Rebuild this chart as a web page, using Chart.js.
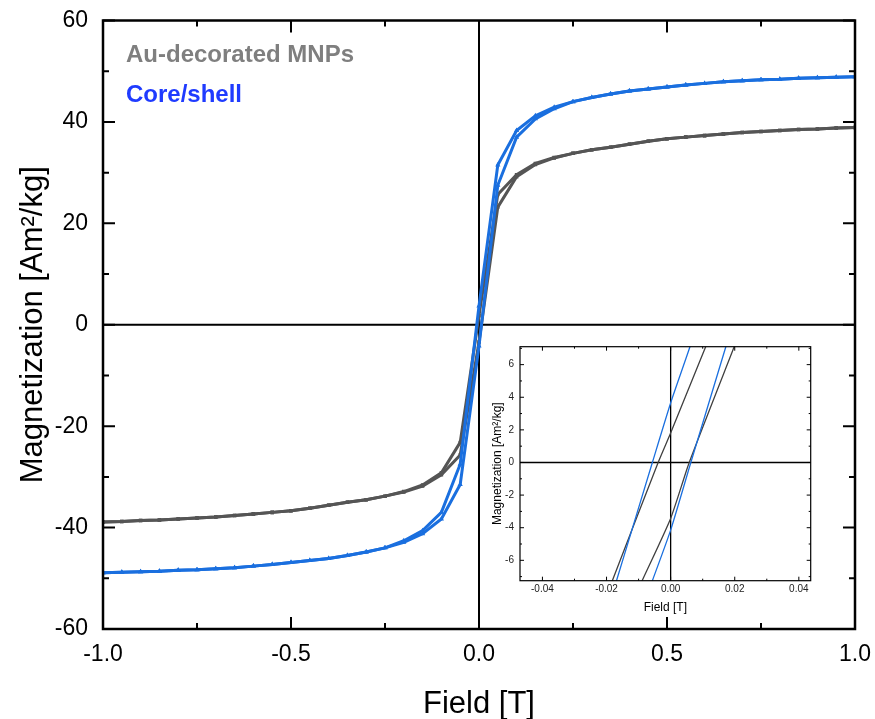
<!DOCTYPE html>
<html>
<head>
<meta charset="utf-8">
<script src="https://cdn.jsdelivr.net/npm/chart.js@4"></script>
<style>
  body { margin: 0; background: #fff; }
  #wrap { position: relative; width: 875px; height: 719px; font-family: "Liberation Sans", Arial, sans-serif; }
  #main { position: absolute; left: 0; top: 0; }
  #inset { position: absolute; left: 470px; top: 336px; }
  .leg { position: absolute; left: 126px; font-weight: bold; font-size: 24px; line-height: 40px; white-space: nowrap; }
</style>
</head>
<body>
<div id="wrap">
  <canvas id="main" width="875" height="719"></canvas>
  <canvas id="inset" width="350" height="290"></canvas>
  <div class="leg" style="top:34px;color:#7f7f7f">Au-decorated MNPs</div>
  <div class="leg" style="top:74px;color:#1f3bff">Core/shell</div>
</div>
<script>
// champ appliqué, pas de 0.05 T
var field = [-1.00, -0.95, -0.90, -0.85, -0.80, -0.75, -0.70, -0.65, -0.60, -0.55,
             -0.50, -0.45, -0.40, -0.35, -0.30, -0.25, -0.20, -0.15, -0.10, -0.05,
              0.00,  0.05,  0.10,  0.15,  0.20,  0.25,  0.30,  0.35,  0.40,  0.45,
              0.50,  0.55,  0.60,  0.65,  0.70,  0.75,  0.80,  0.85,  0.90,  0.95, 1.00];

// Au-decorated MNPs : branche descendante (+1 -> -1) et montante (-1 -> +1)
var auDown = [-38.9, -38.8, -38.6, -38.5, -38.3, -38.1, -37.9, -37.6, -37.3, -37.0,
              -36.7, -36.2, -35.6, -35.0, -34.5, -33.8, -32.9, -31.6, -29.2, -23.2,
                1.8,  25.7,  29.6,  31.8,  33.0,  33.8,  34.5,  35.0,  35.6,  36.2,
               36.7,  37.0,  37.3,  37.6,  37.9,  38.1,  38.3,  38.5,  38.6,  38.8, 38.9];
var auUp   = [-38.9, -38.8, -38.6, -38.5, -38.3, -38.1, -37.9, -37.6, -37.3, -37.0,
              -36.7, -36.2, -35.6, -35.0, -34.5, -33.8, -33.0, -31.8, -29.6, -25.7,
               -3.4,  23.2,  29.2,  31.6,  32.9,  33.8,  34.5,  35.0,  35.6,  36.2,
               36.7,  37.0,  37.3,  37.6,  37.9,  38.1,  38.3,  38.5,  38.6,  38.8, 38.9];

// Core/shell
var csDown = [-48.9, -48.8, -48.7, -48.6, -48.4, -48.3, -48.1, -47.9, -47.6, -47.3,
              -46.9, -46.5, -46.1, -45.5, -44.8, -44.0, -42.6, -40.6, -37.0, -27.5,
                3.7,  31.5,  38.3,  41.2,  42.9,  44.0,  44.8,  45.5,  46.1,  46.5,
               46.9,  47.3,  47.6,  47.9,  48.1,  48.3,  48.4,  48.6,  48.7,  48.8, 48.9];
var csUp   = [-48.9, -48.8, -48.7, -48.6, -48.4, -48.3, -48.1, -47.9, -47.6, -47.3,
              -46.9, -46.5, -46.1, -45.5, -44.8, -44.0, -42.9, -41.2, -38.3, -31.5,
               -4.2,  27.5,  37.0,  40.6,  42.6,  44.0,  44.8,  45.5,  46.1,  46.5,
               46.9,  47.3,  47.6,  47.9,  48.1,  48.3,  48.4,  48.6,  48.7,  48.8, 48.9];

// encart : zoom autour de l'origine
var auDownH = [-0.0215, -0.0182, -0.0039, 0.0000, 0.0109, 0.0150];
var auDownM = [-9.0, -7.25, 0.0, 1.81, 7.08, 9.0];
var auUpH   = [-0.0120, -0.0089, 0.0000, 0.0058, 0.0198, 0.0240];
var auUpM   = [-8.6, -7.25, -3.43, 0.0, 7.08, 9.2];
var csDownH = [-0.0200, -0.0169, -0.0057, 0.0000, 0.0060, 0.0090];
var csDownM = [-9.2, -7.25, 0.0, 3.65, 7.08, 9.0];
var csUpH   = [-0.0090, -0.0057, 0.0000, 0.0063, 0.0172, 0.0200];
var csUpM   = [-9.0, -7.25, -4.15, 0.0, 7.08, 8.9];

var xTicks = [-1, -0.5, 0, 0.5, 1];
var xMinor = [-0.75, -0.25, 0.25, 0.75];
var yTicks = [-60, -40, -20, 0, 20, 40, 60];
var yMinor = [-50, -30, -10, 10, 30, 50];

var ixTicks = [-0.04, -0.02, 0, 0.02, 0.04];
var ixMinor = [-0.03, -0.01, 0.01, 0.03];
var iyTicks = [-6, -4, -2, 0, 2, 4, 6];
var iyMinor = [-7, -5, -3, -1, 1, 3, 5, 7];

var GRAY = '#555555';
var BLUE = '#1a6fdf';

function pts(xs, ys) {
    var out = [];
    for (var i = 0; i < xs.length; i++) out.push({x: xs[i], y: ys[i]});
    return out;
}

// cadre, graduations vers l'intérieur et axes du zéro
var frameTicks = {
    id: 'frameTicks',
    beforeDatasetsDraw: function (chart, args, o) {
        var a = chart.chartArea, c = chart.ctx;
        var x0 = chart.scales.x.getPixelForValue(0);
        var y0 = chart.scales.y.getPixelForValue(0);
        c.save();
        c.strokeStyle = '#000';
        c.lineWidth = o.zeroWidth;
        c.beginPath();
        c.moveTo(x0, a.top); c.lineTo(x0, a.bottom);
        c.moveTo(a.left, y0); c.lineTo(a.right, y0);
        c.stroke();
        c.restore();
    },
    afterDatasetsDraw: function (chart, args, o) {
        var a = chart.chartArea, c = chart.ctx;
        var sx = chart.scales.x, sy = chart.scales.y;
        c.save();
        c.strokeStyle = '#000';
        c.lineWidth = o.tickWidth;
        c.beginPath();
        function vt(list, len) {
            list.forEach(function (v) {
                var p = sx.getPixelForValue(v);
                c.moveTo(p, a.bottom); c.lineTo(p, a.bottom - len);
                c.moveTo(p, a.top); c.lineTo(p, a.top + len);
            });
        }
        function ht(list, len) {
            list.forEach(function (v) {
                var p = sy.getPixelForValue(v);
                c.moveTo(a.left, p); c.lineTo(a.left + len, p);
                c.moveTo(a.right, p); c.lineTo(a.right - len, p);
            });
        }
        vt(o.xMajor, o.major); vt(o.xMinor, o.minor);
        ht(o.yMajor, o.major); ht(o.yMinor, o.minor);
        c.stroke();
        c.lineWidth = o.frameWidth;
        c.strokeRect(a.left, a.top, a.right - a.left, a.bottom - a.top);
        c.restore();
    }
};

function noPadX(s, h) { s.height = h; s.paddingLeft = 0; s.paddingRight = 0; }
function noPadY(s, w) { s.width = w; s.paddingTop = 0; s.paddingBottom = 0; }

Chart.defaults.font.family = '"Liberation Sans", Arial, sans-serif';
Chart.defaults.color = '#000';

new Chart(document.getElementById('main'), {
    type: 'line',
    data: {
        datasets: [
            {data: pts(field, csDown), borderColor: BLUE, backgroundColor: BLUE, pointStyle: 'triangle', pointRadius: 3, order: 0},
            {data: pts(field, csUp), borderColor: BLUE, backgroundColor: BLUE, pointStyle: 'triangle', pointRadius: 3, order: 0},
            {data: pts(field, auDown), borderColor: GRAY, backgroundColor: GRAY, pointStyle: 'rect', pointRadius: 2.5, order: 1},
            {data: pts(field, auUp), borderColor: GRAY, backgroundColor: GRAY, pointStyle: 'rect', pointRadius: 2.5, order: 1}
        ]
    },
    options: {
        responsive: false,
        animation: false,
        events: [],
        layout: {padding: {top: 20.5, right: 20, left: 0, bottom: 0}},
        elements: {line: {borderWidth: 3, tension: 0}, point: {borderWidth: 0}},
        plugins: {
            legend: {display: false},
            tooltip: {enabled: false},
            frameTicks: {xMajor: xTicks, xMinor: xMinor, yMajor: yTicks, yMinor: yMinor,
                         major: 12, minor: 6, tickWidth: 2, frameWidth: 2.5, zeroWidth: 2}
        },
        scales: {
            x: {
                type: 'linear', min: -1, max: 1,
                afterBuildTicks: function (s) { s.ticks = xTicks.map(function (v) { return {value: v}; }); },
                afterFit: function (s) { noPadX(s, 90); },
                grid: {display: false, drawTicks: false},
                border: {display: false},
                ticks: {padding: 12, font: {size: 23}, maxRotation: 0,
                        callback: function (v) { return v.toFixed(1); }},
                title: {display: true, text: 'Field [T]', font: {size: 31}, padding: {top: 0, bottom: -4}}
            },
            y: {
                type: 'linear', min: -60, max: 60,
                afterBuildTicks: function (s) { s.ticks = yTicks.map(function (v) { return {value: v}; }); },
                afterFit: function (s) { noPadY(s, 103); },
                grid: {display: false, drawTicks: false},
                border: {display: false},
                ticks: {padding: 15, font: {size: 23}},
                title: {display: true, text: 'Magnetization [Am²/kg]', font: {size: 31}, padding: {top: 15, bottom: 0}}
            }
        }
    },
    plugins: [frameTicks]
});

new Chart(document.getElementById('inset'), {
    type: 'line',
    data: {
        datasets: [
            {data: pts(csDownH, csDownM), borderColor: BLUE, order: 0},
            {data: pts(csUpH, csUpM), borderColor: BLUE, order: 0},
            {data: pts(auDownH, auDownM), borderColor: '#404040', order: 1},
            {data: pts(auUpH, auUpM), borderColor: '#404040', order: 1}
        ]
    },
    options: {
        responsive: false,
        animation: false,
        events: [],
        layout: {padding: {top: 10.7, right: 9.3, left: 0, bottom: 0}},
        elements: {line: {borderWidth: 1.3, tension: 0.2}, point: {radius: 0}},
        plugins: {
            legend: {display: false},
            tooltip: {enabled: false},
            frameTicks: {xMajor: ixTicks, xMinor: ixMinor, yMajor: iyTicks, yMinor: iyMinor,
                         major: 4, minor: 2, tickWidth: 1, frameWidth: 1.2, zeroWidth: 1.3}
        },
        scales: {
            x: {
                type: 'linear', min: -0.047, max: 0.0437,
                afterBuildTicks: function (s) { s.ticks = ixTicks.map(function (v) { return {value: v}; }); },
                afterFit: function (s) { noPadX(s, 45.3); },
                grid: {display: false, drawTicks: false},
                border: {display: false},
                ticks: {padding: 3, font: {size: 10}, maxRotation: 0, color: '#222',
                        callback: function (v) { return v.toFixed(2); }},
                title: {display: true, text: 'Field [T]', font: {size: 12}, padding: {top: 0, bottom: 10.8}}
            },
            y: {
                type: 'linear', min: -7.25, max: 7.1,
                afterBuildTicks: function (s) { s.ticks = iyTicks.map(function (v) { return {value: v}; }); },
                afterFit: function (s) { noPadY(s, 50); },
                grid: {display: false, drawTicks: false},
                border: {display: false},
                ticks: {padding: 6, font: {size: 10}, color: '#222'},
                title: {display: true, text: 'Magnetization [Am²/kg]', font: {size: 12}, padding: {top: 20.8, bottom: 0}}
            }
        }
    },
    plugins: [frameTicks]
});
</script>
</body>
</html>
